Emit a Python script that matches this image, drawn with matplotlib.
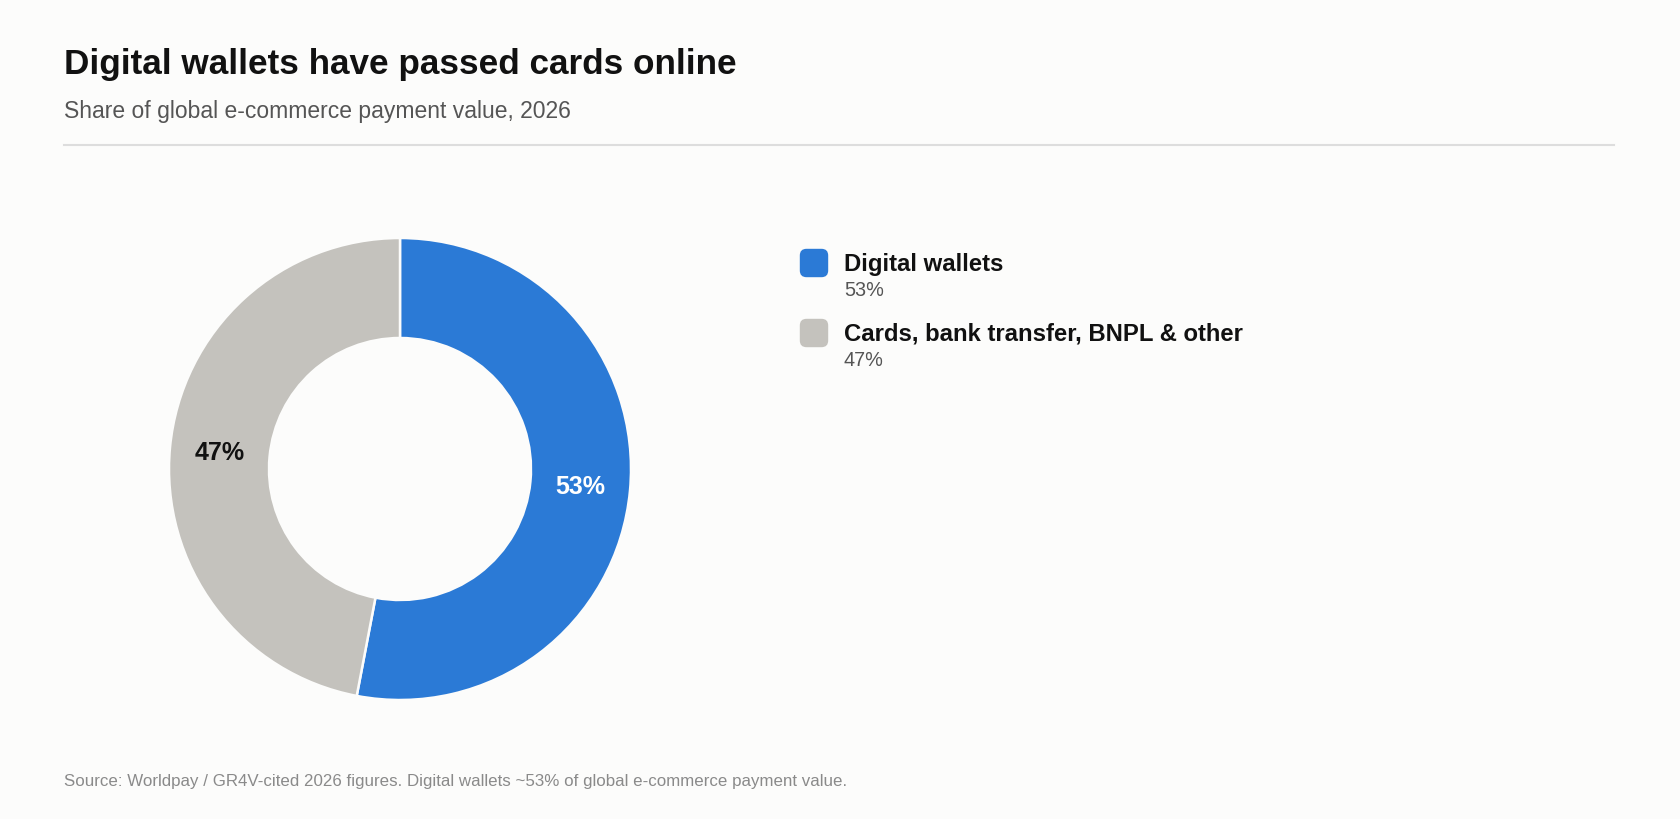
import matplotlib
matplotlib.use("Agg")
import matplotlib.pyplot as plt
from matplotlib.patches import FancyBboxPatch
from matplotlib.lines import Line2D

# ---- data ----
categories = ["Digital wallets", "Cards, bank transfer, BNPL & other"]
shares = [53, 47]
colors = ["#2B7AD6", "#C4C2BD"]
label_colors = ["#FFFFFF", "#111111"]
title = "Digital wallets have passed cards online"
subtitle = "Share of global e-commerce payment value, 2026"
source = "Source: Worldpay / GR4V-cited 2026 figures. Digital wallets ~53% of global e-commerce payment value."

BG = "#FCFCFB"
W, H = 1680, 820
plt.rcParams['font.family'] = ['Liberation Sans', 'DejaVu Sans']

fig = plt.figure(figsize=(W / 100, H / 100), dpi=100, facecolor=BG)


def fx(px):
    return px / W


def fy(py):
    return 1 - py / H


# title block
fig.text(fx(64), fy(74), title, fontsize=25.3, fontweight='bold', color='#111111',
         ha='left', va='baseline')
fig.text(fx(64), fy(118), subtitle, fontsize=16.5, color='#555555',
         ha='left', va='baseline')
fig.add_artist(Line2D([fx(64), fx(1614)], [fy(146), fy(146)], color='#DDDDDD',
                      linewidth=1.5, transform=fig.transFigure))

# donut
cx, cy, R = 400, 470, 231
inner = 131 / 231
ax = fig.add_axes([fx(cx - R), fy(cy + R), (2 * R) / W, (2 * R) / H])
ax.set_facecolor(BG)
wedges, texts, autotexts = ax.pie(
    shares, colors=colors, startangle=90, counterclock=False,
    radius=1, autopct='%.0f%%', pctdistance=(1 + inner) / 2,
    wedgeprops=dict(width=1 - inner, edgecolor=BG, linewidth=1.8),
    textprops=dict(fontsize=18, fontweight='bold'))
for t, c in zip(autotexts, label_colors):
    t.set_color(c)
ax.set_xlim(-1, 1)
ax.set_ylim(-1, 1)
ax.set_aspect('equal')
ax.axis('off')

# legend
sq_x, sq_size = 800, 28
row_top = [250, 320]
for i, (cat, val, col) in enumerate(zip(categories, shares, colors)):
    top = row_top[i]
    box = FancyBboxPatch((fx(sq_x + 4), fy(top + sq_size - 4)),
                         (sq_size - 8) / W, (sq_size - 8) / H,
                         boxstyle="round,pad=0.0025,rounding_size=0.004",
                         transform=fig.transFigure, facecolor=col,
                         edgecolor='none', mutation_aspect=W / H)
    fig.add_artist(box)
    fig.text(fx(844), fy(top + 21), cat, fontsize=17.2, fontweight='bold',
             color='#111111', ha='left', va='baseline')
    fig.text(fx(844), fy(top + 46), f"{val}%", fontsize=14.3, color='#555555',
             ha='left', va='baseline')

# footer
fig.text(fx(64), fy(786), source, fontsize=12.2, color='#8A8A8A',
         ha='left', va='baseline')

fig.savefig("out.png", dpi=100, facecolor=BG)
